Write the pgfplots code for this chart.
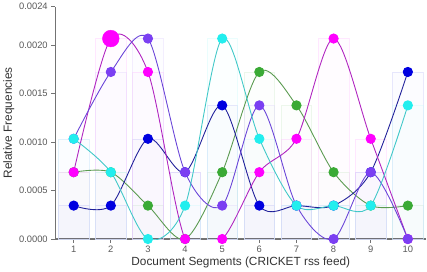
\documentclass[border=0pt]{standalone}
\usepackage{fontspec}
\setmainfont{Liberation Sans}
\usepackage{pgfplots}
\usepackage{pgfplotstable}
\pgfplotsset{compat=1.18}
\definecolor{cMag}{HTML}{FF00FF}
\definecolor{cMagL}{HTML}{B024C0}
\definecolor{cVio}{HTML}{7B3FF2}
\definecolor{cVioL}{HTML}{6A45D8}
\definecolor{cBlu}{HTML}{0000E0}
\definecolor{cBluL}{HTML}{20209A}
\definecolor{cCya}{HTML}{22EEEE}
\definecolor{cCyaL}{HTML}{40C8C8}
\definecolor{cGre}{HTML}{3AAA35}
\definecolor{cGreL}{HTML}{5A9A50}
\pgfplotstableread{
x green blue magenta violet cyan
1 0.00069 0.000345 0.00069 0.001035 0.001035
2 0.00069 0.000345 0.00207 0.001725 0.00069
3 0.000345 0.001035 0.001725 0.00207 0
4 0 0.00069 0 0.00069 0.000345
5 0.00069 0.00138 0 0.000345 0.00207
6 0.001725 0.000345 0.00069 0.00138 0.001035
7 0.00138 0.000345 0.001035 0.000345 0.000345
8 0.00069 0.000345 0.00207 0 0.000345
9 0.000345 0.00069 0.001035 0.00069 0.000345
10 0.000345 0.001725 0 0 0.00138
}\data
\pgfplotsset{
  bgbar/.style={ybar, bar width=31pt, bar shift=0pt, fill=#1, fill opacity=0.01,
    draw=#1!25!white, draw opacity=0.35, line width=0.5pt, forget plot},
  spl/.style 2 args={smooth, #2, line width=0.9pt, mark=*, mark size=4.7pt,
    mark options={fill=#1, draw=#1}},
}
\begin{document}
\begin{tikzpicture}
\begin{axis}[
  scale only axis, width=377pt, height=236pt,
  xmin=0.5, xmax=10.5, ymin=0, ymax=0.0024,
  axis x line*=bottom, axis y line*=left,
  axis line style={color=black!55, line width=1.2pt, -},
  xtick={1,...,10},
  ytick={0,0.0005,0.001,0.0015,0.002,0.0024},
  scaled y ticks=false,
  yticklabel style={/pgf/number format/.cd, fixed, fixed zerofill, precision=4},
  /pgf/number format/assume math mode=true,
  tick align=outside, major tick length=4pt,
  tick style={color=black!55, line width=0.8pt},
  ticklabel style={font=\fontsize{9.5}{10}\selectfont, color=black!65},
  xlabel={Document Segments (CRICKET rss feed)},
  ylabel={Relative Frequencies},
  label style={font=\fontsize{12}{13}\selectfont, color=black!80},
  xlabel style={yshift=3pt},
  ylabel style={yshift=-2pt},
]
% faint background bars
\addplot[bgbar=cGre] table[x=x, y=green] {\data};
\addplot[bgbar=cBlu] table[x=x, y=blue] {\data};
\addplot[bgbar=cMag] table[x=x, y=magenta] {\data};
\addplot[bgbar=cVio] table[x=x, y=violet] {\data};
\addplot[bgbar=cCya] table[x=x, y=cyan] {\data};
% spline lines with dots
\addplot[spl={cGre}{cGreL}] table[x=x, y=green] {\data};
\addplot[spl={cBlu}{cBluL}] table[x=x, y=blue] {\data};
\addplot[spl={cMag}{cMagL}] table[x=x, y=magenta] {\data};
\addplot[spl={cVio}{cVioL}] table[x=x, y=violet] {\data};
\addplot[spl={cCya}{cCyaL}] table[x=x, y=cyan] {\data};
\addplot[only marks, mark=*, mark size=8.5pt, mark options={fill=cMag, draw=cMag}] coordinates {(2,0.00207)};
\end{axis}
\end{tikzpicture}
\end{document}
